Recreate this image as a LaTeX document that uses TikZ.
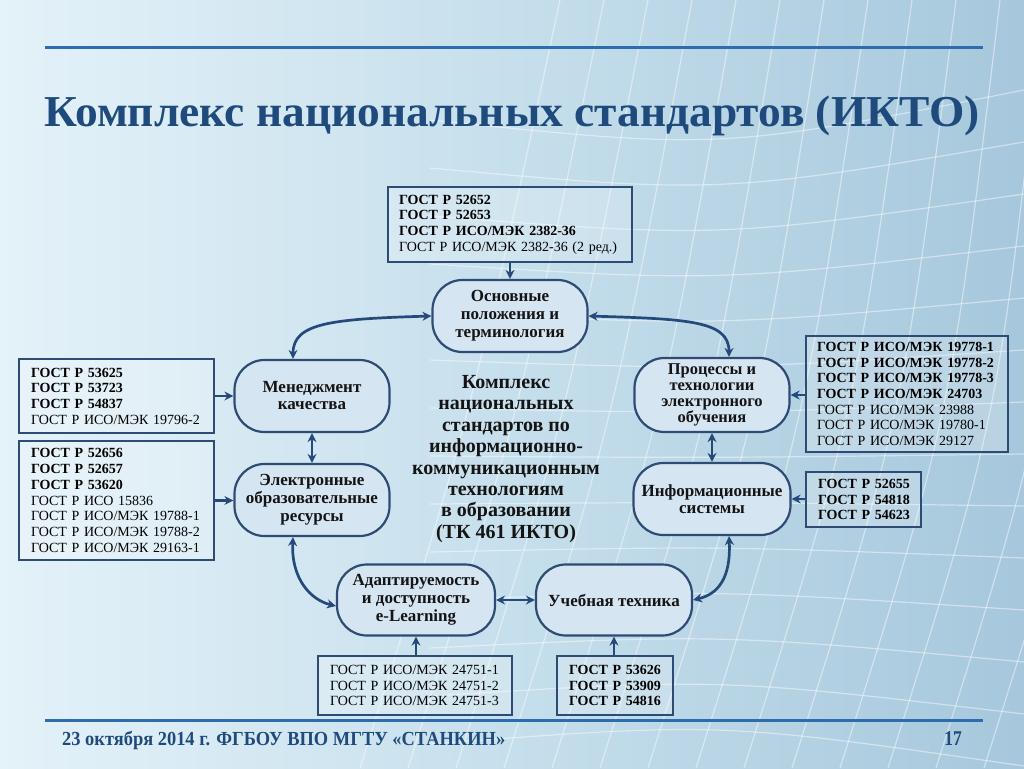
\documentclass[tikz,border=0pt]{standalone}
\usepackage{fontspec}
\setmainfont{Liberation Serif}
\usetikzlibrary{arrows.meta,calc}
\definecolor{bgL}{HTML}{E4F2F9}
\definecolor{bgM}{HTML}{C6DFEC}
\definecolor{bgR}{HTML}{A6C7DC}
\definecolor{nodeb}{HTML}{2E4C73}
\definecolor{nodef}{HTML}{D6E5F2}
\definecolor{arrc}{HTML}{244A7C}
\definecolor{titc}{HTML}{1E4A7C}
\definecolor{linec}{HTML}{2D6DAE}
\begin{document}
\begin{tikzpicture}[x=1pt,y=-1pt,
  pill/.style={draw=nodeb, line width=2.2pt, fill=nodef, rounded corners=30pt,
    minimum width=155pt, minimum height=72pt, inner sep=1pt, align=center,
    text=black!92, font=\fontsize{17}{18}\selectfont\bfseries},
  gbox/.style={draw=nodeb, line width=1.8pt, fill=white, fill opacity=0.2, text opacity=1,
    inner xsep=11pt, inner ysep=2pt, align=left, text=black,
    font=\fontsize{14}{15.7}\selectfont},
  con/.style={draw=arrc, line width=2.7pt, -{Stealth[length=9pt,width=9pt]}},
  dcon/.style={draw=arrc, line width=2.7pt, {Stealth[length=9pt,width=9pt]}-{Stealth[length=9pt,width=9pt]}},
  gridl/.style={draw=white, line width=1.2pt, opacity=0.45},
  hline/.style={draw=linec, line width=3pt}
]
\useasboundingbox (0,0) rectangle (1024,768);
% background
\shade[left color=bgL, right color=bgR, middle color=bgM] (0,0) rectangle (1024,768);
\begin{scope}
\clip (0,0) rectangle (1024,768);
\foreach \i in {0,...,16} {
  \draw[gridl] (360+48*\i, 768) .. controls (470+48*\i, 420) .. (560+44*\i, 0);
}
\foreach \i in {0,...,14} {
  \draw[gridl] (430, 120+48*\i) .. controls (720, 150+44*\i) .. (1024, 90+52*\i);
}
\end{scope}
% rules
\draw[hline] (45,48) -- (983,48);
\draw[hline] (45,720) -- (983,720);
% title
\node[text=titc, inner sep=0pt] (title) at (512,116)
  {\resizebox*{935pt}{40pt}{\fontsize{45}{50}\selectfont\bfseries Комплекс национальных стандартов (ИКТО)}};
% footer
\node[text=titc, inner sep=0pt, anchor=base west] (foot) at (62,745)
  {\resizebox*{443pt}{18.5pt}{\fontsize{21}{22}\selectfont\bfseries 23 октября 2014 г. ФГБОУ ВПО МГТУ «СТАНКИН»}};
\node[text=titc, inner sep=0pt, anchor=base east] (pnum) at (962,745)
  {\scalebox{0.83}[1]{\fontsize{21}{22}\selectfont\bfseries 17}};
% pills
\node[pill] (n1) at (510,316) {Основные\\положения и\\терминология};
\node[pill, font=\fontsize{17}{17}\selectfont\bfseries] (n2) at (312,396) {Менеджмент\\качества};
\node[pill, minimum height=74pt, font=\fontsize{16.5}{16}\selectfont\bfseries] (n3) at (712,395) {Процессы и\\технологии\\электронного\\обучения};
\node[pill] (n4) at (312,500) {Электронные\\образовательные\\ресурсы};
\node[pill, minimum width=157pt, font=\fontsize{17}{17}\selectfont\bfseries] (n5) at (712,499) {Информационные\\системы};
\node[pill, minimum width=158pt, minimum height=71pt] (n6) at (416,600) {Адаптируемость\\и доступность\\e-Learning};
\node[pill, minimum width=156pt, minimum height=71pt] (n7) at (614,600) {Учебная техника};
% centre text
\node[align=center, text=black!92, font=\fontsize{20}{21.4}\selectfont\bfseries] (ctr) at (506,459)
  {Комплекс\\национальных\\стандартов по\\информационно-\\коммуникационным\\технологиям\\в образовании\\(ТК 461 ИКТО)};
% boxes
\node[gbox, text width=222pt, minimum height=75pt] (bA) at (510,224.5)
  {\textbf{ГОСТ~Р~52652}\\\textbf{ГОСТ~Р~52653}\\\textbf{ГОСТ~Р~ИСО/МЭК~2382-36}\\ГОСТ~Р~ИСО/МЭК~2382-36~(2~ред.)};
\node[gbox, inner xsep=12pt, text width=171pt, minimum height=74pt] (bB) at (116.5,396)
  {\textbf{ГОСТ~Р~53625}\\\textbf{ГОСТ~Р~53723}\\\textbf{ГОСТ~Р~54837}\\ГОСТ~Р~ИСО/МЭК~19796-2};
\node[gbox, inner xsep=12pt, text width=171pt, minimum height=119pt] (bC) at (116.5,500.5)
  {\textbf{ГОСТ~Р~52656}\\\textbf{ГОСТ~Р~52657}\\\textbf{ГОСТ~Р~53620}\\ГОСТ~Р~ИСО~15836\\ГОСТ~Р~ИСО/МЭК~19788-1\\ГОСТ~Р~ИСО/МЭК~19788-2\\ГОСТ~Р~ИСО/МЭК~29163-1};
\node[gbox, text width=180pt, minimum height=116pt] (bD) at (907,394)
  {\textbf{ГОСТ~Р~ИСО/МЭК~19778-1}\\\textbf{ГОСТ~Р~ИСО/МЭК~19778-2}\\\textbf{ГОСТ~Р~ИСО/МЭК~19778-3}\\\textbf{ГОСТ~Р~ИСО/МЭК~24703}\\ГОСТ~Р~ИСО/МЭК~23988\\ГОСТ~Р~ИСО/МЭК~19780-1\\ГОСТ~Р~ИСО/МЭК~29127};
\node[gbox, inner xsep=12pt, text width=91pt, minimum height=55pt] (bE) at (863.5,499.5)
  {\textbf{ГОСТ~Р~52655}\\\textbf{ГОСТ~Р~54818}\\\textbf{ГОСТ~Р~54623}};
\node[gbox, inner xsep=12pt, text width=170pt, minimum height=59pt] (bF) at (415,685.5)
  {ГОСТ~Р~ИСО/МЭК~24751-1\\ГОСТ~Р~ИСО/МЭК~24751-2\\ГОСТ~Р~ИСО/МЭК~24751-3};
\node[gbox, inner xsep=12pt, text width=92pt, minimum height=59pt] (bG) at (615,685.5)
  {\textbf{ГОСТ~Р~53626}\\\textbf{ГОСТ~Р~53909}\\\textbf{ГОСТ~Р~54816}};
% connectors from boxes
\draw[con] (bA.south) -- (n1.north);
\draw[con] (bB.east) -- (bB.east -| n2.west);
\draw[con] (bC.east) -- (bC.east -| n4.west);
\draw[con] (bD.west |- n3) -- (n3.east);
\draw[con] (bE.west |- n5) -- (n5.east);
\draw[con] (bF.north -| n6) -- (n6.south);
\draw[con] (bG.north -| n7) -- (n7.south);
% connectors between pills
\draw[dcon] (n2.south) -- (n4.north);
\draw[dcon] (n3.south) -- (n5.north);
\draw[dcon] (n6.east) -- (n7.west);
\draw[dcon] ([xshift=-19pt]n2.north) .. controls +(0,-36) and +(-100,3) .. (n1.west);
\draw[dcon] (n1.east) .. controls +(100,3) and +(0,-36) .. ([xshift=17pt]n3.north);
\draw[dcon] ([xshift=-19pt]n4.south) .. controls +(-2,42) and +(-25,-6) .. ([yshift=-6pt]n6.west);
\draw[dcon] ([xshift=17pt]n5.south) .. controls +(2,42) and +(25,-6) .. (n7.east);
\end{tikzpicture}
\end{document}
